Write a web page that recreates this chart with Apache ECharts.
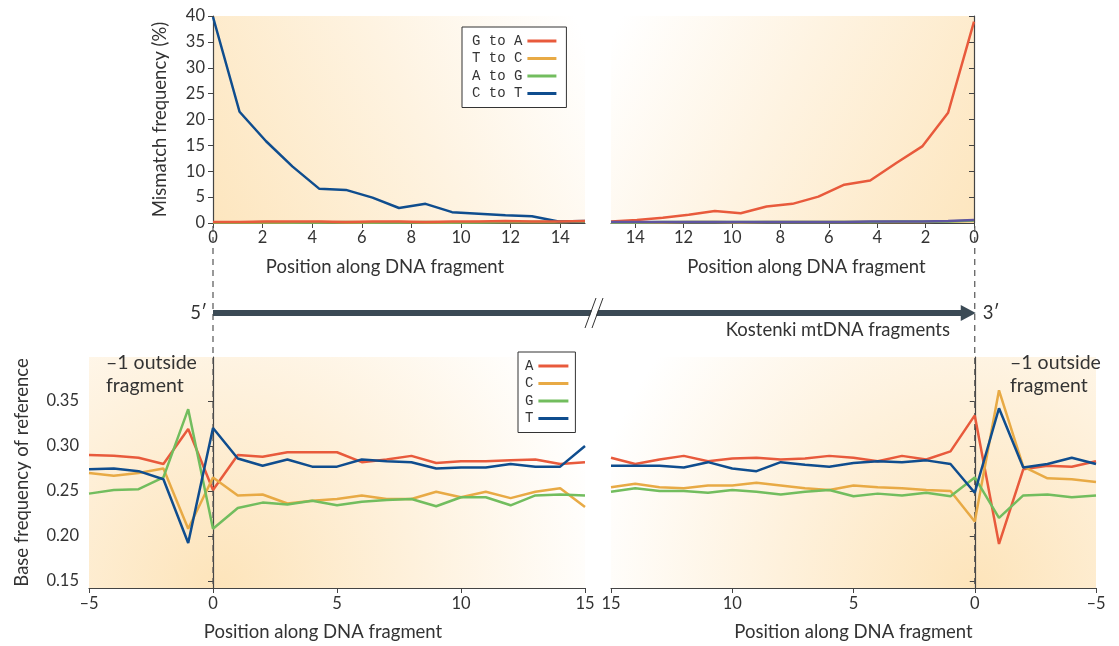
<!DOCTYPE html>
<html>
<head>
<meta charset="utf-8">
<script src="https://cdn.jsdelivr.net/npm/echarts@6/dist/echarts.min.js"></script>
<style>
html,body{margin:0;padding:0;background:#fff;}
#main{width:1119px;height:646px;}
</style>
</head>
<body>
<div id="main"></div>
<script>
// mismatch plots: position of each point along the fragment
var topPos = [0, 1.07, 2.14, 3.21, 4.29, 5.36, 6.43, 7.5, 8.57, 9.64, 10.71, 11.79, 12.86, 13.93, 15];
// 5' end
var gaStart = [0.2, 0.2, 0.3, 0.3, 0.3, 0.2, 0.3, 0.3, 0.2, 0.3, 0.3, 0.4, 0.3, 0.3, 0.4];
var tcStart = [0.1, 0.1, 0.1, 0.1, 0.2, 0.1, 0.1, 0.2, 0.1, 0.1, 0.2, 0.2, 0.2, 0.2, 0.3];
var agStart = [0.1, 0.1, 0.2, 0.1, 0.1, 0.2, 0.1, 0.1, 0.2, 0.1, 0.1, 0.2, 0.2, 0.2, 0.3];
var ctStart = [39.8, 21.5, 15.8, 10.9, 6.6, 6.4, 4.9, 2.9, 3.7, 2.1, 1.8, 1.5, 1.3, 0.3, 0.4];
// 3' end
var gaEnd = [38.9, 21.3, 14.8, 11.6, 8.2, 7.4, 5.1, 3.7, 3.2, 1.9, 2.3, 1.6, 1.0, 0.6, 0.3];
var tcEnd = [0.4, 0.3, 0.2, 0.2, 0.2, 0.2, 0.2, 0.2, 0.2, 0.1, 0.2, 0.2, 0.1, 0.1, 0.1];
var agEnd = [0.5, 0.3, 0.3, 0.3, 0.2, 0.2, 0.2, 0.2, 0.2, 0.2, 0.2, 0.2, 0.2, 0.1, 0.1];
var ctEnd = [0.6, 0.4, 0.3, 0.3, 0.3, 0.2, 0.2, 0.2, 0.2, 0.2, 0.2, 0.2, 0.2, 0.2, 0.2];

// base frequency plots
var basePos = [-5, -4, -3, -2, -1, 0, 1, 2, 3, 4, 5, 6, 7, 8, 9, 10, 11, 12, 13, 14, 15];
var aStart = [0.290, 0.289, 0.287, 0.280, 0.319, 0.251, 0.290, 0.288, 0.293, 0.293, 0.293, 0.282, 0.285, 0.289, 0.281, 0.283, 0.283, 0.284, 0.285, 0.280, 0.282];
var cStart = [0.270, 0.267, 0.270, 0.275, 0.208, 0.265, 0.245, 0.246, 0.236, 0.239, 0.241, 0.245, 0.241, 0.241, 0.249, 0.243, 0.249, 0.242, 0.249, 0.253, 0.232];
var gStart = [0.247, 0.251, 0.252, 0.265, 0.341, 0.208, 0.231, 0.237, 0.235, 0.239, 0.234, 0.238, 0.240, 0.241, 0.233, 0.243, 0.243, 0.234, 0.245, 0.246, 0.245];
var tStart = [0.274, 0.275, 0.272, 0.263, 0.192, 0.320, 0.286, 0.278, 0.285, 0.277, 0.277, 0.285, 0.283, 0.282, 0.275, 0.276, 0.276, 0.280, 0.277, 0.277, 0.300];
var aEnd = [0.283, 0.277, 0.278, 0.274, 0.191, 0.334, 0.294, 0.285, 0.289, 0.283, 0.287, 0.289, 0.286, 0.285, 0.287, 0.286, 0.283, 0.289, 0.285, 0.280, 0.287];
var cEnd = [0.260, 0.263, 0.264, 0.277, 0.362, 0.216, 0.250, 0.251, 0.253, 0.254, 0.256, 0.251, 0.253, 0.256, 0.259, 0.256, 0.256, 0.253, 0.254, 0.258, 0.254];
var gEnd = [0.245, 0.243, 0.246, 0.245, 0.220, 0.265, 0.244, 0.248, 0.245, 0.247, 0.244, 0.251, 0.249, 0.246, 0.249, 0.251, 0.248, 0.250, 0.250, 0.253, 0.249];
var tEnd = [0.280, 0.287, 0.280, 0.276, 0.342, 0.248, 0.280, 0.284, 0.282, 0.283, 0.281, 0.277, 0.279, 0.282, 0.272, 0.275, 0.282, 0.276, 0.278, 0.278, 0.278];

var topTicks = [0, 2, 4, 6, 8, 10, 12, 14];
var baseTicks = [0.15, 0.20, 0.25, 0.30, 0.35];

var red = '#e85a3c', orange = '#e8aa45', green = '#72bd5e', blue = '#0f4d8e';
var fontSans = 'Lato, "Open Sans", sans-serif';
var axisCol = '#444';

function pairs(xs, ys){
	return xs.map(function(x, i){ return [x, ys[i]]; });
}

function lineSeries(name, color, idx, xs, ys){
	return {
		type: 'line', name: name, xAxisIndex: idx, yAxisIndex: idx,
		data: pairs(xs, ys), symbol: 'none', color: color,
		lineStyle: {width: 2.5, color: color}, z: 3
	};
}

function bg(type, cx){
	if(type == 'linear'){
		return {type: 'linear', x: cx, y: 1, x2: 1 - cx, y2: 0.1,
			colorStops: [{offset: 0, color: '#fde6bf'}, {offset: 0.55, color: '#fef3e1'}, {offset: 1, color: '#ffffff'}]};
	}
	return {type: 'radial', x: cx, y: 1, r: 1.7,
		colorStops: [{offset: 0, color: '#fde4ba'}, {offset: 0.5, color: '#fef1dc'}, {offset: 1, color: '#ffffff'}]};
}

var axisLineStyle = {show: true, lineStyle: {color: axisCol, width: 1.2}};
var tickStyle = {show: true, length: 5, lineStyle: {color: axisCol}};
var labelStyle = {color: '#333', fontSize: 16.5, fontFamily: fontSans};
function nameStyle(shift){
	return {color: '#333', fontSize: 18.5, fontFamily: fontSans,
		padding: shift < 0 ? [0, -2 * shift, 0, 0] : [0, 0, 0, 2 * shift]};
}

var chart = echarts.init(document.getElementById('main'));
chart.setOption({
	animation: false,
	backgroundColor: '#fff',
	grid: [
		{left: 213, top: 16, width: 372, height: 207, show: true, borderWidth: 0, backgroundColor: bg('linear', 0)},
		{left: 611, top: 16, width: 363, height: 207, show: true, borderWidth: 0, backgroundColor: bg('linear', 1)},
		{left: 89, top: 357, width: 496, height: 231, show: true, borderWidth: 0, backgroundColor: bg('radial', 0.26)},
		{left: 611, top: 357, width: 485, height: 231, show: true, borderWidth: 0, backgroundColor: bg('radial', 0.75)}
	],
	xAxis: [
		{gridIndex: 0, type: 'value', min: 0, max: 15, splitLine: {show: false},
			axisLine: axisLineStyle, axisTick: {show: true, length: 5, lineStyle: {color: axisCol}, customValues: topTicks},
			axisLabel: Object.assign({customValues: topTicks, margin: 6}, labelStyle),
			name: 'Position along DNA fragment', nameLocation: 'middle', nameGap: 35, nameTextStyle: nameStyle(-14)},
		{gridIndex: 1, type: 'value', min: 0, max: 15, inverse: true, splitLine: {show: false},
			axisLine: axisLineStyle, axisTick: {show: true, length: 5, lineStyle: {color: axisCol}, customValues: topTicks},
			axisLabel: Object.assign({customValues: topTicks, margin: 6}, labelStyle),
			name: 'Position along DNA fragment', nameLocation: 'middle', nameGap: 35, nameTextStyle: nameStyle(14)},
		{gridIndex: 2, type: 'value', min: -5, max: 15, interval: 5, splitLine: {show: false},
			axisLine: axisLineStyle, axisTick: tickStyle,
			axisLabel: Object.assign({margin: 7, formatter: function(v){ return v < 0 ? '–' + (-v) : v; }}, labelStyle),
			name: 'Position along DNA fragment', nameLocation: 'middle', nameGap: 35, nameTextStyle: nameStyle(-14)},
		{gridIndex: 3, type: 'value', min: -5, max: 15, interval: 5, inverse: true, splitLine: {show: false},
			axisLine: axisLineStyle, axisTick: tickStyle,
			axisLabel: Object.assign({margin: 7, formatter: function(v){ return v < 0 ? '–' + (-v) : v; }}, labelStyle),
			name: 'Position along DNA fragment', nameLocation: 'middle', nameGap: 35, nameTextStyle: nameStyle(0)}
	],
	yAxis: [
		{gridIndex: 0, type: 'value', min: 0, max: 40, interval: 5, splitLine: {show: false},
			axisLine: axisLineStyle, axisTick: tickStyle, axisLabel: Object.assign({margin: 8}, labelStyle),
			name: 'Mismatch frequency (%)', nameLocation: 'middle', nameGap: 43, nameRotate: 90, nameTextStyle: nameStyle(0)},
		{gridIndex: 1, type: 'value', min: 0, max: 40, interval: 5, splitLine: {show: false},
			axisLine: axisLineStyle, axisTick: tickStyle, axisLabel: {show: false}},
		{gridIndex: 2, type: 'value', min: 0.142, max: 0.399, splitLine: {show: false},
			axisLine: axisLineStyle,
			axisTick: {show: true, length: 5, lineStyle: {color: axisCol}, customValues: baseTicks},
			axisLabel: Object.assign({customValues: baseTicks, margin: 10, formatter: function(v){ return v.toFixed(2); }}, labelStyle),
			name: 'Base frequency of reference', nameLocation: 'middle', nameGap: 57, nameRotate: 90, nameTextStyle: nameStyle(0)},
		{gridIndex: 3, type: 'value', min: 0.142, max: 0.399, splitLine: {show: false},
			axisLine: axisLineStyle,
			axisTick: {show: true, length: 5, lineStyle: {color: axisCol}, customValues: baseTicks},
			axisLabel: {show: false}}
	],
	legend: [
		{data: ['G to A', 'T to C', 'A to G', 'C to T'], orient: 'vertical', align: 'right',
			left: 462, top: 27, icon: 'rect', itemWidth: 29, itemHeight: 3, itemGap: 3.5,
			padding: [7, 10, 7, 10], borderColor: '#333', borderWidth: 1, backgroundColor: '#fff',
			textStyle: {color: '#333', fontSize: 14, fontFamily: '"Liberation Mono", monospace', lineHeight: 14}},
		{data: ['A', 'C', 'G', 'T'], orient: 'vertical', align: 'right',
			left: 518, top: 352, icon: 'rect', itemWidth: 30, itemHeight: 3, itemGap: 3.5,
			padding: [7, 7, 7, 7], borderColor: '#333', borderWidth: 1, backgroundColor: '#fff', z: 10,
			textStyle: {color: '#333', fontSize: 14, fontFamily: '"Liberation Mono", monospace', lineHeight: 14}}
	],
	series: [
		lineSeries('T to C', orange, 0, topPos, tcStart),
		lineSeries('A to G', green, 0, topPos, agStart),
		lineSeries('C to T', blue, 0, topPos, ctStart),
		lineSeries('G to A', red, 0, topPos, gaStart),
		lineSeries('G to A', red, 1, topPos, gaEnd),
		lineSeries('T to C', orange, 1, topPos, tcEnd),
		lineSeries('A to G', green, 1, topPos, agEnd),
		lineSeries('C to T', '#5f55a0', 1, topPos, ctEnd),
		lineSeries('A', red, 2, basePos, aStart),
		lineSeries('C', orange, 2, basePos, cStart),
		lineSeries('G', green, 2, basePos, gStart),
		lineSeries('T', blue, 2, basePos, tStart),
		lineSeries('A', red, 3, basePos, aEnd),
		lineSeries('C', orange, 3, basePos, cEnd),
		lineSeries('G', green, 3, basePos, gEnd),
		lineSeries('T', blue, 3, basePos, tEnd)
	]
});
// legend colour of C to T should stay blue
chart.setOption({series: [{}, {}, {}, {}, {}, {}, {}, {color: blue, lineStyle: {color: '#5f55a0'}}]});

// annotations: dashed guides, strand arrow, labels
var x0L = chart.convertToPixel({xAxisIndex: 2}, 0);
var x0R = chart.convertToPixel({xAxisIndex: 3}, 0);
var yTopAxis = chart.convertToPixel({yAxisIndex: 0}, 0);
var yBotAxis = chart.convertToPixel({yAxisIndex: 2}, 0.142);
var yArrow = 313;
var dash = {stroke: '#555', lineWidth: 1.2, lineDash: [6, 5]};
var txt = {fill: '#333', fontSize: 18.5, fontFamily: fontSans};

chart.setOption({
	graphic: [
		{type: 'line', z: 1, shape: {x1: x0L, y1: yTopAxis + 3, x2: x0L, y2: yBotAxis}, style: dash},
		{type: 'line', z: 1, shape: {x1: x0R, y1: yTopAxis + 3, x2: x0R, y2: yBotAxis}, style: dash},
		{type: 'line', z: 5, shape: {x1: x0L, y1: yArrow, x2: x0R - 10, y2: yArrow}, style: {stroke: '#3b4a55', lineWidth: 6}},
		{type: 'polygon', z: 5, shape: {points: [[x0R - 14, yArrow - 8], [x0R + 1, yArrow], [x0R - 14, yArrow + 8]]}, style: {fill: '#3b4a55'}},
		{type: 'polygon', z: 6, shape: {points: [[586, yArrow + 14], [592, yArrow + 14], [602, yArrow - 14], [596, yArrow - 14]]}, style: {fill: '#fff'}},
		{type: 'line', z: 7, shape: {x1: 585, y1: yArrow + 15, x2: 596, y2: yArrow - 15}, style: {stroke: '#333', lineWidth: 1}},
		{type: 'line', z: 7, shape: {x1: 592, y1: yArrow + 15, x2: 603, y2: yArrow - 15}, style: {stroke: '#333', lineWidth: 1}},
		{type: 'text', z: 7, style: Object.assign({text: '5′', x: x0L - 6, y: yArrow, align: 'right', verticalAlign: 'middle'}, txt)},
		{type: 'text', z: 7, style: Object.assign({text: '3′', x: x0R + 8, y: yArrow, align: 'left', verticalAlign: 'middle'}, txt)},
		{type: 'text', z: 7, style: Object.assign({text: 'Kostenki mtDNA fragments', x: 950, y: yArrow + 17, align: 'right', verticalAlign: 'middle'}, txt)},
		{type: 'text', z: 7, style: Object.assign({text: '–1 outside\nfragment', x: 106, y: 351, lineHeight: 23, fontSize: 19.5}, {fill: '#333', fontFamily: fontSans})},
		{type: 'text', z: 7, style: Object.assign({text: '–1 outside\nfragment', x: 1010, y: 351, lineHeight: 23, fontSize: 19.5}, {fill: '#333', fontFamily: fontSans})}
	]
});
</script>
</body>
</html>
